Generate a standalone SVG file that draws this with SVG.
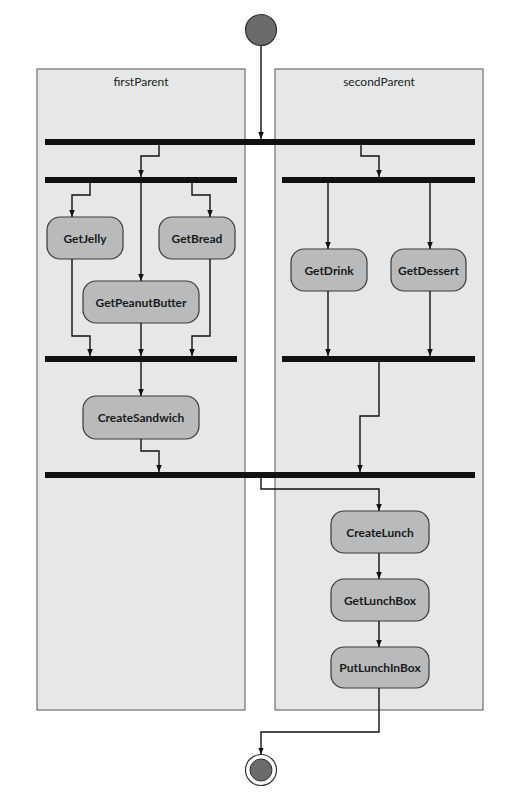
<svg xmlns="http://www.w3.org/2000/svg" width="528" height="804" viewBox="0 0 528 804">
<style>
.lane{fill:#e6e7e8;stroke:#6d6e70;stroke-width:1.2}
.lanelbl{font-family:Lato,"Open Sans",sans-serif;font-size:12px;fill:#222;text-anchor:middle}
.act{fill:#b9babb;stroke:#3a3a3a;stroke-width:1.2}
.lbl{font-family:Lato,"Open Sans",sans-serif;font-weight:bold;font-size:12px;fill:#1a1a1a;text-anchor:middle}
.bar{fill:#111}
.c{fill:none;stroke:#111;stroke-width:1.4;marker-end:url(#ah)}
</style>
<defs>
<marker id="ah" viewBox="0 0 10 10" refX="10" refY="5" markerWidth="7" markerHeight="7" markerUnits="userSpaceOnUse" orient="auto">
<path d="M0,1 L10,5 L0,9 z" fill="#111"/>
</marker>
</defs>
<rect x="0" y="0" width="528" height="804" fill="#fff"/>
<g id="lane-firstParent">
<rect class="lane" x="37" y="69" width="208" height="641"/>
<text class="lanelbl" x="141" y="86">firstParent</text>
</g>
<g id="lane-secondParent">
<rect class="lane" x="275" y="69" width="208" height="641"/>
<text class="lanelbl" x="379" y="86">secondParent</text>
</g>
<g id="start"><circle cx="261" cy="30" r="15.5" fill="#6a6b6d" stroke="#333" stroke-width="1.2"/></g>
<g id="fork1"><rect class="bar" x="45" y="139" width="430" height="6"/></g>
<g id="fork2"><rect class="bar" x="45" y="177" width="192" height="6"/></g>
<g id="fork3"><rect class="bar" x="282" y="177" width="193" height="6"/></g>
<g id="join1"><rect class="bar" x="45" y="356" width="192" height="6"/></g>
<g id="join2"><rect class="bar" x="282" y="356" width="193" height="6"/></g>
<g id="join3"><rect class="bar" x="45" y="472" width="430" height="6"/></g>
<g id="GetJelly"><rect class="act" x="47" y="217" width="76" height="42" rx="13"/><text class="lbl" x="85" y="243">GetJelly</text></g>
<g id="GetBread"><rect class="act" x="159" y="217" width="76" height="42" rx="13"/><text class="lbl" x="197" y="243">GetBread</text></g>
<g id="GetPeanutButter"><rect class="act" x="83" y="281" width="116" height="42" rx="13"/><text class="lbl" x="141" y="307">GetPeanutButter</text></g>
<g id="GetDrink"><rect class="act" x="291" y="249" width="76" height="42" rx="13"/><text class="lbl" x="329" y="275">GetDrink</text></g>
<g id="GetDessert"><rect class="act" x="391" y="249" width="75" height="42" rx="13"/><text class="lbl" x="428.5" y="275">GetDessert</text></g>
<g id="CreateSandwich"><rect class="act" x="83" y="396" width="116" height="43" rx="13"/><text class="lbl" x="141" y="422">CreateSandwich</text></g>
<g id="CreateLunch"><rect class="act" x="331" y="511" width="98" height="42" rx="13"/><text class="lbl" x="380" y="537">CreateLunch</text></g>
<g id="GetLunchBox"><rect class="act" x="331" y="579" width="98" height="42" rx="13"/><text class="lbl" x="380" y="605">GetLunchBox</text></g>
<g id="PutLunchInBox"><rect class="act" x="331" y="647" width="98" height="41" rx="13"/><text class="lbl" x="380" y="672">PutLunchInBox</text></g>
<g id="end"><circle cx="261" cy="770" r="15.5" fill="#fff" stroke="#333" stroke-width="1.2"/><circle cx="261" cy="770" r="11" fill="#6a6b6d" stroke="#333" stroke-width="1"/></g>
<g id="connectors">
<path class="c" d="M261,46 V139"/>
<path class="c" d="M159,145 V156 H141 V177"/>
<path class="c" d="M361,145 V156 H379 V177"/>
<path class="c" d="M90,183 V195 H72 V217"/>
<path class="c" d="M141,183 V281"/>
<path class="c" d="M192,183 V195 H210 V217"/>
<path class="c" d="M328,183 V249"/>
<path class="c" d="M430,183 V249"/>
<path class="c" d="M72,259 V336 H90 V356"/>
<path class="c" d="M141,323 V356"/>
<path class="c" d="M210,259 V336 H192 V356"/>
<path class="c" d="M328,291 V356"/>
<path class="c" d="M430,291 V356"/>
<path class="c" d="M141,362 V396"/>
<path class="c" d="M141,439 V451 H159 V472"/>
<path class="c" d="M379,362 V416 H360 V472"/>
<path class="c" d="M261,478 V489 H379 V511"/>
<path class="c" d="M379,553 V579"/>
<path class="c" d="M379,621 V647"/>
<path class="c" d="M379,688 V732 H261 V754.5"/>
</g>
</svg>
